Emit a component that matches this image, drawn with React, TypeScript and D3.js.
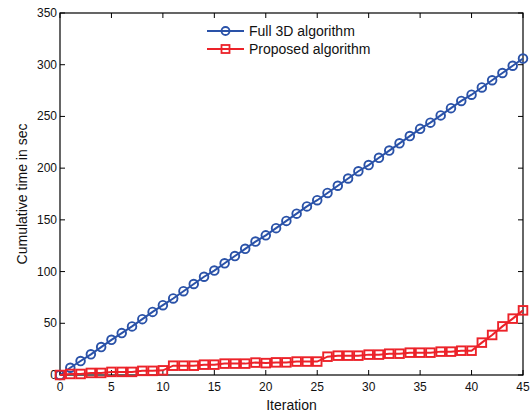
import React, { useEffect, useRef } from 'react';
import * as d3 from 'd3';

const iterations = d3.range(0, 46);
const fullTime = [0, 7, 13.5, 20, 27, 34, 40.5, 47, 54, 61, 67.5, 74, 81, 88, 95, 101, 108, 115, 122, 129, 135,
  142, 149, 156, 163, 169, 176, 183, 190, 197, 203, 210, 217, 224, 231, 238, 244, 251, 258, 265, 271, 278, 285,
  292, 299, 306];
const proposedTime = [0, 1, 1, 2, 2, 3, 3, 3, 4, 4, 4.5, 9, 9, 9, 10, 10, 11, 11, 11, 12, 11.5, 12.2, 12.2, 13,
  13, 13, 17.7, 18.7, 18.7, 18.7, 19.7, 19.7, 20.6, 20.6, 21.6, 21.6, 21.6, 22.6, 22.6, 23.5, 23.5, 31.3, 38.7,
  47, 54.5, 62.5];
const xTicks = [0, 5, 10, 15, 20, 25, 30, 35, 40, 45];
const yTicks = [0, 50, 100, 150, 200, 250, 300, 350];
const seriesNames = ['Full 3D algorithm', 'Proposed algorithm'];

const W = 530, H = 416;
const m = { left: 60, right: 7, top: 13, bottom: 41 };
const blue = '#2a52a8';
const red = '#ec2229';

function Chart() {
  const ref = useRef<SVGSVGElement>(null);

  useEffect(() => {
    const svg = d3.select(ref.current);
    svg.selectAll('*').remove();
    const x = d3.scaleLinear().domain([0, 45]).range([m.left, W - m.right]);
    const y = d3.scaleLinear().domain([0, 350]).range([H - m.bottom, m.top]);
    const font = 'Liberation Sans, Arial, sans-serif';

    // axes box
    svg.append('rect')
      .attr('x', m.left).attr('y', m.top)
      .attr('width', W - m.left - m.right).attr('height', H - m.top - m.bottom)
      .attr('fill', 'white').attr('stroke', '#000').attr('stroke-width', 1.2);

    const g = svg.append('g').attr('font-family', font).attr('font-size', 12).attr('fill', '#111');

    xTicks.forEach(t => {
      g.append('line').attr('x1', x(t)).attr('x2', x(t)).attr('y1', y(0)).attr('y2', y(0) - 5).attr('stroke', '#000');
      g.append('line').attr('x1', x(t)).attr('x2', x(t)).attr('y1', y(350)).attr('y2', y(350) + 5).attr('stroke', '#000');
      g.append('text').attr('x', x(t)).attr('y', y(0) + 16).attr('text-anchor', 'middle').text(t);
    });
    yTicks.forEach(t => {
      g.append('line').attr('x1', x(0)).attr('x2', x(0) + 5).attr('y1', y(t)).attr('y2', y(t)).attr('stroke', '#000');
      g.append('line').attr('x1', x(45)).attr('x2', x(45) - 5).attr('y1', y(t)).attr('y2', y(t)).attr('stroke', '#000');
      g.append('text').attr('x', x(0) - 3).attr('y', y(t) + 4).attr('text-anchor', 'end').text(t);
    });

    g.append('text').attr('x', (x(0) + x(45)) / 2).attr('y', 410).attr('text-anchor', 'middle')
      .attr('font-size', 14).text('Iteration');
    g.append('text').attr('transform', `translate(27,${(y(0) + y(350)) / 2}) rotate(-90)`)
      .attr('text-anchor', 'middle').attr('font-size', 14).text('Cumulative time in sec');

    const line = d3.line<number>().x((_, i) => x(iterations[i])).y(d => y(d));

    const plot = svg.append('g');
    plot.append('path').attr('d', line(fullTime)).attr('fill', 'none').attr('stroke', blue).attr('stroke-width', 2);
    plot.selectAll('circle.full').data(fullTime).enter().append('circle')
      .attr('cx', (_, i) => x(iterations[i])).attr('cy', d => y(d)).attr('r', 4.3)
      .attr('fill', 'none').attr('stroke', blue).attr('stroke-width', 1.9);

    plot.append('path').attr('d', line(proposedTime)).attr('fill', 'none').attr('stroke', red).attr('stroke-width', 2);
    plot.selectAll('rect.prop').data(proposedTime).enter().append('rect')
      .attr('x', (_, i) => x(iterations[i]) - 4.3).attr('y', d => y(d) - 4.3).attr('width', 8.6).attr('height', 8.6)
      .attr('fill', 'none').attr('stroke', red).attr('stroke-width', 1.9);

    // legend
    const leg = svg.append('g').attr('font-family', font).attr('font-size', 14).attr('fill', '#111');
    seriesNames.forEach((name, i) => {
      const ly = 31 + i * 18;
      const c = i === 0 ? blue : red;
      leg.append('line').attr('x1', 207).attr('x2', 244).attr('y1', ly).attr('y2', ly).attr('stroke', c).attr('stroke-width', 2);
      if (i === 0) {
        leg.append('circle').attr('cx', 225.5).attr('cy', ly).attr('r', 4).attr('fill', 'none').attr('stroke', c).attr('stroke-width', 1.8);
      } else {
        leg.append('rect').attr('x', 221.5).attr('y', ly - 4).attr('width', 8).attr('height', 8).attr('fill', 'none').attr('stroke', c).attr('stroke-width', 1.8);
      }
      leg.append('text').attr('x', 249).attr('y', ly + 5).text(name);
    });
  }, []);

  return <svg ref={ref} width={W} height={H} style={{ display: 'block' }} />;
}

export default function App() {
  return (
    <div style={{ position: 'absolute', left: 0, top: 0, background: 'white' }}>
      <Chart />
    </div>
  );
}
